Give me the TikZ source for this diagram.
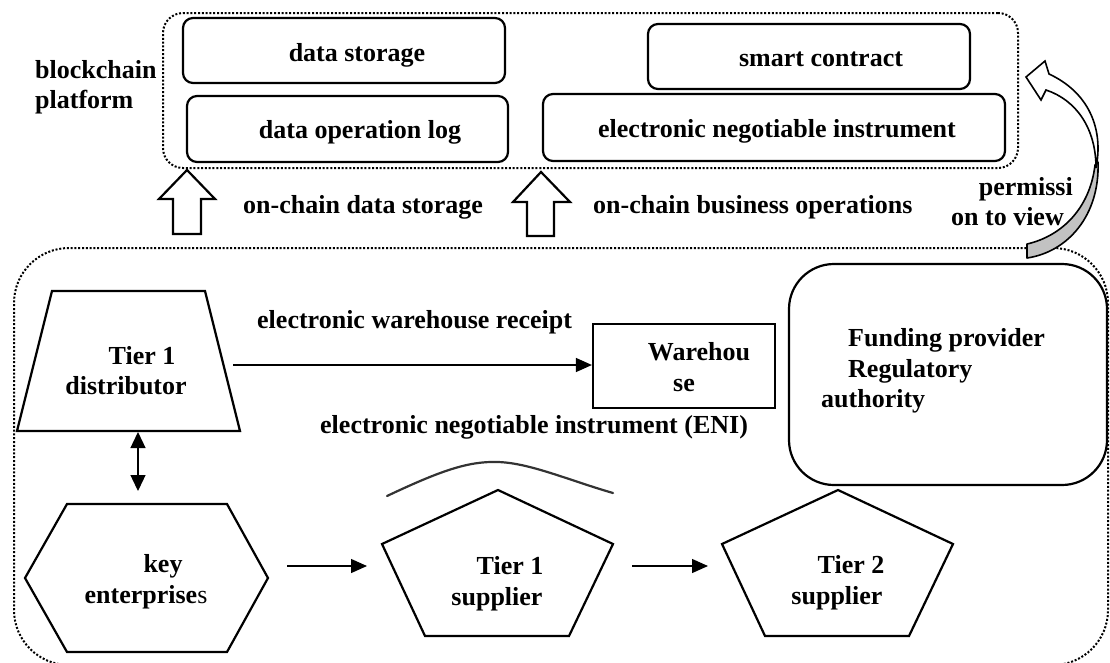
\documentclass[tikz,border=0pt]{standalone}
\usepackage{fontspec}
\setmainfont{Liberation Serif}
\usetikzlibrary{arrows.meta}
\begin{document}
\begin{tikzpicture}[x=1pt,y=-1pt,
  txt/.style={font=\fontsize{26}{30}\selectfont\bfseries, inner sep=0pt, text height=18pt, text depth=5pt},
  rbox/.style={draw, line width=2.2pt, rounded corners=10pt, inner sep=0pt},
  dotbox/.style={draw, line width=2pt, dash pattern=on 2pt off 1.8pt, inner sep=0pt},
  shp/.style={draw, line width=2.2pt, line join=miter},
  conn/.style={line width=1.3pt, -{Triangle[length=16pt,width=14pt]}},
  dconn/.style={line width=1.3pt, {Triangle[length=16pt,width=15pt]}-{Triangle[length=16pt,width=15pt]}},
  blockarrow/.style={draw, line width=2.2pt, fill=white, line join=miter}
]
\useasboundingbox (0,0) rectangle (1110,662);

% ---------- dotted containers ----------
\node[dotbox, rounded corners=20pt, minimum width=855pt, minimum height=155pt] (chain) at (590.5,90.5) {};
\node[dotbox, rounded corners=55pt, minimum width=1094pt, minimum height=417pt] (biz) at (561,456.5) {};

% ---------- blockchain platform boxes ----------
\node[rbox, minimum width=322pt, minimum height=65pt] (ds) at (344,50.5) {};
\node[txt] (dsT) at (357,54.5) {data storage};
\node[rbox, minimum width=321pt, minimum height=66pt] (dol) at (347.5,129) {};
\node[txt] (dolT) at (360,131.5) {data operation log};
\node[rbox, minimum width=322pt, minimum height=65pt] (sc) at (809,56.5) {};
\node[txt] (scT) at (821,60) {smart contract};
\node[rbox, minimum width=462pt, minimum height=67pt] (eni) at (774,127.5) {};
\node[txt] (eniT) at (777,130.5) {electronic negotiable instrument};

\node[txt, anchor=west] (bc1) at (35,71.5) {blockchain};
\node[txt, anchor=west] (bc2) at (35,101.5) {platform};

% ---------- hollow up arrows ----------
\path[blockarrow] (187,170) -- (215,199) -- (201,199) -- (201,234) -- (173,234) -- (173,199) -- (159,199) -- cycle;
\path[blockarrow] (541,172) -- (570,202) -- (554,202) -- (554,236) -- (527,236) -- (527,202) -- (513,202) -- cycle;
\node[txt, anchor=west] (ocds) at (243,207) {on-chain data storage};
\node[txt, anchor=west] (ocbo) at (593,207) {on-chain business operations};

% ---------- permission curved arrow ----------
\path[draw, line width=1.6pt, fill=black!24, line join=round]
  (1098,162) .. controls (1100,215) and (1068,252) .. (1027,258)
  -- (1027,244) .. controls (1062,236) and (1090,208) .. (1095,165) -- cycle;
\path[draw, line width=1.6pt, fill=white, line join=miter]
  (1096,168) .. controls (1096,128) and (1076,100) .. (1046,90)
  -- (1041,100) -- (1026,77) -- (1045,61) -- (1049,74)
  .. controls (1088,92) and (1104,128) .. (1096,168) -- cycle;
\node[txt, anchor=east] (perm1) at (1073,188.5) {permissi};
\node[txt, anchor=east] (perm2) at (1064,218.5) {on to view};

% ---------- Tier 1 distributor (trapezoid) ----------
\path[shp] (52,291) -- (205,291) -- (240,431) -- (17,431) -- cycle;
\node[txt] (dist1) at (142,357.5) {Tier 1};
\node[txt] (dist2) at (126,387.5) {distributor};
\coordinate (distR) at (233,365);
\coordinate (distB) at (138,432);

% ---------- Warehouse ----------
\node[draw, line width=2.2pt, inner sep=0pt, minimum width=182pt, minimum height=84pt] (wh) at (684,366) {};
\node[txt] (wh1) at (699,353.5) {Warehou};
\node[txt] (wh2) at (684,384.5) {se};
\draw[conn] (distR) -- (distR -| wh.west);
\node[txt, anchor=west] (ewr) at (257,321.5) {electronic warehouse receipt};
\node[txt, anchor=west] (enil) at (320,427) {electronic negotiable instrument (ENI)};

% ---------- Funding provider ----------
\node[draw, line width=2.2pt, rounded corners=45pt, inner sep=0pt, minimum width=318pt, minimum height=221pt] (fund) at (948,374.5) {};
\node[txt, anchor=west] (f1) at (848,339.5) {Funding provider};
\node[txt, anchor=west] (f2) at (848,371) {Regulatory};
\node[txt, anchor=west] (f3) at (821,401) {authority};

% ---------- key enterprises (hexagon) ----------
\path[shp] (67,504) -- (227,504) -- (268,578) -- (227,652) -- (67,652) -- (25,578) -- cycle;
\node[txt] (key1) at (163,566) {key};
\node[txt] (key2) at (146,597) {enterprise\textmd{s}};
\coordinate (keyT) at (138,491);
\coordinate (keyR) at (287,566);
\draw[dconn] (distB) -- (keyT);

% ---------- Tier 1 supplier (pentagon) ----------
\path[shp] (498,490) -- (613,544) -- (569,636) -- (425,636) -- (382,544) -- cycle;
\node[txt] (t1a) at (510,567.5) {Tier 1};
\node[txt] (t1b) at (497,598.5) {supplier};
\coordinate (t1L) at (367,566);
\coordinate (t1R) at (632,566);
\draw[conn] (keyR) -- (t1L);
\draw[line width=2.2pt, black!80, line cap=round] (387,496) .. controls (440,471) and (468,461) .. (498,462) .. controls (530,463) and (568,480) .. (613,493);

% ---------- Tier 2 supplier (pentagon) ----------
\path[shp] (838,490) -- (953,544) -- (909,636) -- (765,636) -- (722,544) -- cycle;
\node[txt] (t2a) at (851,567) {Tier 2};
\node[txt] (t2b) at (837,598) {supplier};
\coordinate (t2L) at (708,566);
\draw[conn] (t1R) -- (t2L);
\end{tikzpicture}
\end{document}
